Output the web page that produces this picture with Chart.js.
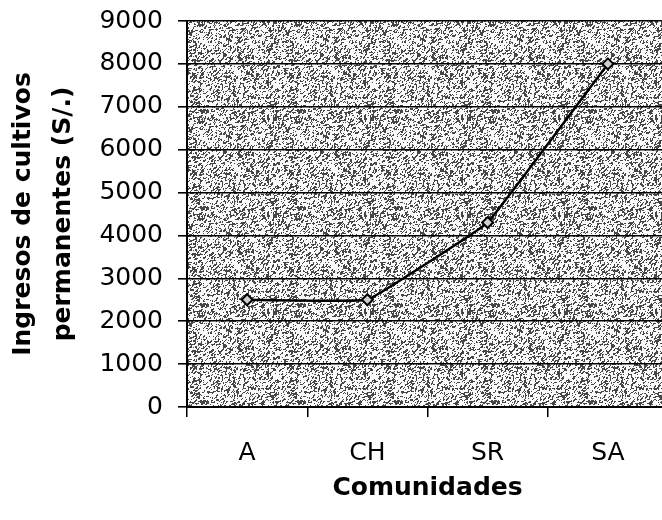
<!DOCTYPE html>
<html>
<head>
<meta charset="utf-8">
<script src="https://cdn.jsdelivr.net/npm/chart.js@4.4.1/dist/chart.umd.min.js"></script>
<style>
  html, body { margin: 0; padding: 0; background: #fff; overflow: hidden; }
  #wrap { width: 662px; height: 520px; overflow: hidden; }
</style>
</head>
<body>
<div id="wrap"><canvas id="chart" width="668" height="520"></canvas></div>
<script>
const comunidades = ['A', 'CH', 'SR', 'SA'];
const ingresos = [2500, 2500, 4300, 8000];
const yMin = 0;
const yMax = 9000;
const yStep = 1000;
const yTitle = ['Ingresos de cultivos', 'permanentes (S/.)'];
const xTitle = 'Comunidades';

// grainy grey tile, like the scanned Excel plot area
const tile = document.createElement('canvas');
tile.width = 97; tile.height = 97;
(function () {
  const n = 97;
  const g = tile.getContext('2d');
  const img = g.createImageData(n, n);
  const hash = (x, y) => {
    const h = Math.sin(((x + n) % n) * 12.9898 + ((y + n) % n) * 78.233) * 43758.5453;
    return h - Math.floor(h);
  };
  for (let y = 0; y < n; y++) {
    for (let x = 0; x < n; x++) {
      const s = (hash(x, y) + hash(x - 1, y) + hash(x, y - 1)) / 3;
      const v = s < 0.43 ? 70 : 250;
      const i = (y * n + x) * 4;
      img.data[i] = img.data[i + 1] = img.data[i + 2] = v;
      img.data[i + 3] = 255;
    }
  }
  g.putImageData(img, 0, 0);
})();

const plotFill = {
  id: 'plotFill',
  beforeDraw(chart) {
    const { ctx, chartArea: a } = chart;
    ctx.save();
    ctx.fillStyle = ctx.createPattern(tile, 'repeat');
    ctx.fillRect(a.left, a.top, a.right - a.left, a.bottom - a.top);
    ctx.restore();
  }
};

Chart.defaults.color = '#000';
const tickFont = { family: 'DejaVu Sans', size: 25 };
const titleFont = { family: 'DejaVu Sans', size: 25, weight: 'bold' };

new Chart(document.getElementById('chart').getContext('2d'), {
  type: 'line',
  data: {
    labels: comunidades,
    datasets: [{
      data: ingresos,
      borderColor: '#000',
      borderWidth: 2.5,
      tension: 0.06,
      pointStyle: 'rectRot',
      pointRadius: 5.5,
      pointBorderWidth: 2,
      pointBorderColor: '#000',
      pointBackgroundColor: '#cfcfcf'
    }]
  },
  options: {
    responsive: false,
    animation: false,
    layout: { autoPadding: false, padding: { top: 21, left: 0, right: 0, bottom: 0 } },
    plugins: { legend: { display: false }, tooltip: { enabled: false } },
    scales: {
      x: {
        offset: true,
        grid: { drawOnChartArea: false, drawTicks: true, tickLength: 10, offset: true, color: '#000', lineWidth: 1.5 },
        border: { color: '#000', width: 2 },
        ticks: { font: tickFont, padding: 21, maxRotation: 0 },
        title: { display: true, text: xTitle, font: titleFont, padding: { top: 0, bottom: 17 } },
        afterFit(s) { s.height = 113; s.paddingLeft = 0; s.paddingRight = 0; }
      },
      y: {
        min: yMin,
        max: yMax,
        grid: { color: '#000', lineWidth: 1.6, tickLength: 9 },
        border: { color: '#000', width: 2 },
        ticks: { stepSize: yStep, font: tickFont, padding: 15, callback: v => String(v) },
        title: { display: true, text: yTitle, font: Object.assign({ lineHeight: 1.6 }, titleFont), padding: { top: 3, bottom: 0 } },
        afterFit(s) { s.width = 187; s.paddingTop = 0; s.paddingBottom = 0; }
      }
    }
  },
  plugins: [plotFill]
});
</script>
</body>
</html>
